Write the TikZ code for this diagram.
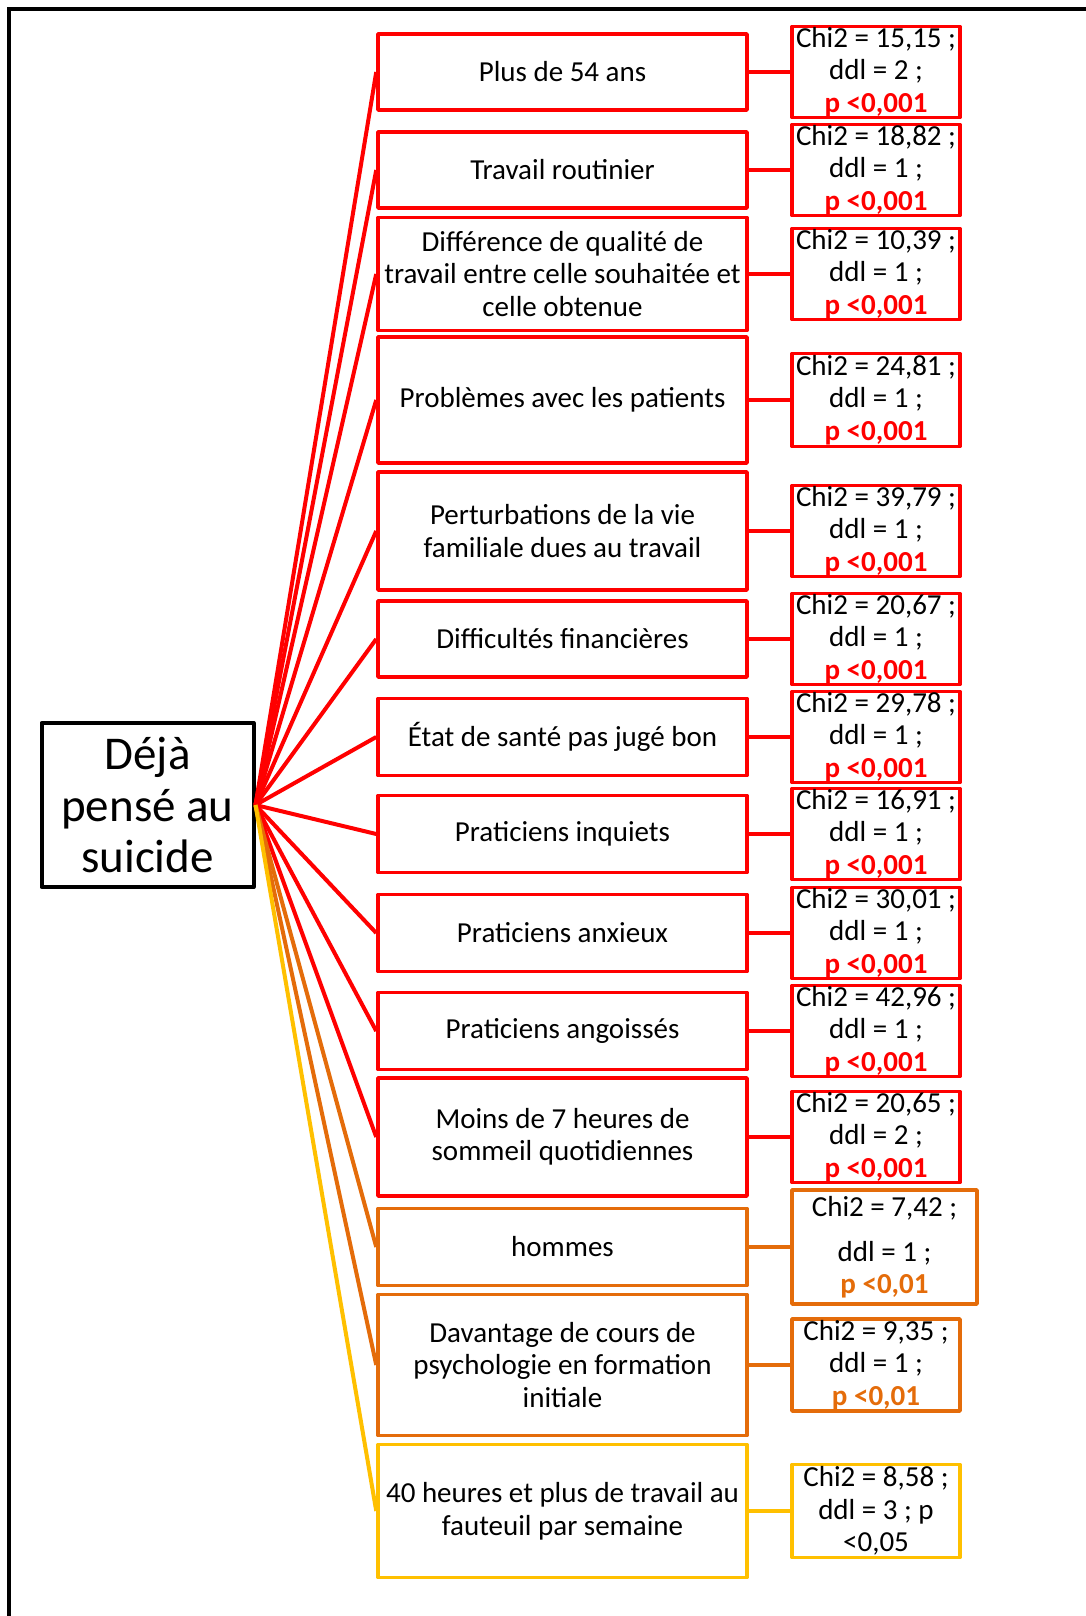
\documentclass[tikz,border=0pt]{standalone}
\usepackage{fontspec}
\setmainfont{Carlito}
\definecolor{cred}{HTML}{FF0000}
\definecolor{corange}{HTML}{E46C0A}
\definecolor{cyellow}{HTML}{FFC000}
\tikzset{
  box/.style={draw, line width=3.5pt, rectangle, inner sep=0pt, align=center,
    font=\fontsize{29}{32.5}\selectfont, line join=round},
  mainbox/.style={box, minimum width=369pt},
  statbox/.style={box, minimum width=168pt, minimum height=91pt},
  link/.style={line width=4pt},
  redbox/.style={draw=cred},
  orangebox/.style={draw=corange},
  yellowbox/.style={draw=cyellow},
}
\newcommand{\pred}{\textcolor{cred}{\textbf{p <0,001}}}
\newcommand{\porange}{\textcolor{corange}{\textbf{p <0,01}}}
\begin{document}
\begin{tikzpicture}[x=1pt,y=-1pt]
\useasboundingbox (0,0) rectangle (1085,1616);
% frame
\draw[line width=4pt] (9,1620) -- (9,9) -- (1090,9);
% centre
\node[box, draw=black, line width=4pt, minimum width=212pt, minimum height=164pt,
  font=\fontsize{47}{51.5}\selectfont] (c) at (147.5,805) {Déjà\\pensé au\\suicide};
% main boxes
\node[mainbox, redbox, minimum height=76pt]  (b1)  at (562.5,72)   {Plus de 54 ans};
\node[mainbox, redbox, minimum height=76pt]  (b2)  at (562.5,170)  {Travail routinier};
\node[mainbox, redbox, minimum height=113pt] (b3)  at (562.5,274)  {Différence de qualité de\\travail entre celle souhaitée et\\celle obtenue};
\node[mainbox, redbox, minimum height=126pt] (b4)  at (562.5,400)  {Problèmes avec les patients};
\node[mainbox, redbox, minimum height=118pt] (b5)  at (562.5,531)  {Perturbations de la vie\\familiale dues au travail};
\node[mainbox, redbox, minimum height=76pt]  (b6)  at (562.5,639)  {Difficultés financières};
\node[mainbox, redbox, minimum height=77pt]  (b7)  at (562.5,737)  {État de santé pas jugé bon};
\node[mainbox, redbox, minimum height=77pt]  (b8)  at (562.5,834)  {Praticiens inquiets};
\node[mainbox, redbox, minimum height=77pt]  (b9)  at (562.5,933)  {Praticiens anxieux};
\node[mainbox, redbox, minimum height=77pt]  (b10) at (562.5,1031) {Praticiens angoissés};
\node[mainbox, redbox, minimum height=118pt] (b11) at (562.5,1137) {Moins de 7 heures de\\sommeil quotidiennes};
\node[mainbox, orangebox, minimum height=77pt]  (b12) at (562.5,1247) {hommes};
\node[mainbox, orangebox, minimum height=141pt] (b13) at (562.5,1365) {Davantage de cours de\\psychologie en formation\\initiale};
\node[mainbox, yellowbox, minimum height=133pt] (b14) at (562.5,1511) {40 heures et plus de travail au\\fauteuil par semaine};
% stat boxes (centred on the row of their main box)
\node[statbox, redbox] (s1)  at (876,72)   {Chi2 = 15,15 ;\\ddl = 2 ;\\\pred};
\node[statbox, redbox] (s2)  at (876,170)  {Chi2 = 18,82 ;\\ddl = 1 ;\\\pred};
\node[statbox, redbox] (s3)  at (876,274)  {Chi2 = 10,39 ;\\ddl = 1 ;\\\pred};
\node[statbox, redbox, minimum height=93pt] (s4)  at (876,400) {Chi2 = 24,81 ;\\ddl = 1 ;\\\pred};
\node[statbox, redbox] (s5)  at (876,531)  {Chi2 = 39,79 ;\\ddl = 1 ;\\\pred};
\node[statbox, redbox] (s6)  at (876,639)  {Chi2 = 20,67 ;\\ddl = 1 ;\\\pred};
\node[statbox, redbox] (s7)  at (876,737)  {Chi2 = 29,78 ;\\ddl = 1 ;\\\pred};
\node[statbox, redbox] (s8)  at (876,834)  {Chi2 = 16,91 ;\\ddl = 1 ;\\\pred};
\node[statbox, redbox] (s9)  at (876,933)  {Chi2 = 30,01 ;\\ddl = 1 ;\\\pred};
\node[statbox, redbox] (s10) at (876,1031) {Chi2 = 42,96 ;\\ddl = 1 ;\\\pred};
\node[statbox, redbox] (s11) at (876,1137) {Chi2 = 20,65 ;\\ddl = 2 ;\\\pred};
\node[statbox, orangebox, minimum width=185pt, minimum height=114pt] (s12) at (884.5,1247)
  {Chi2 = 7,42 ;\\[12.5pt]ddl = 1 ;\\\porange};
\node[statbox, orangebox, minimum height=92pt] (s13) at (876,1365) {Chi2 = 9,35 ;\\ddl = 1 ;\\\porange};
\node[statbox, yellowbox, minimum height=93pt] (s14) at (876,1511) {Chi2 = 8,58 ;\\ddl = 3 ; p\\<0,05};
% connectors to stats
\foreach \i in {1,...,11} { \draw[link, cred] (b\i.east) -- (s\i.west); }
\foreach \i in {12,13} { \draw[link, corange] (b\i.east) -- (s\i.west); }
\draw[link, cyellow] (b14.east) -- (s14.west);
% fan connectors
\foreach \i in {1,...,11} { \draw[link, cred] (c.east) -- (b\i.west); }
\foreach \i in {12,13} { \draw[link, corange] (c.east) -- (b\i.west); }
\draw[link, cyellow] (c.east) -- (b14.west);
\end{tikzpicture}
\end{document}
